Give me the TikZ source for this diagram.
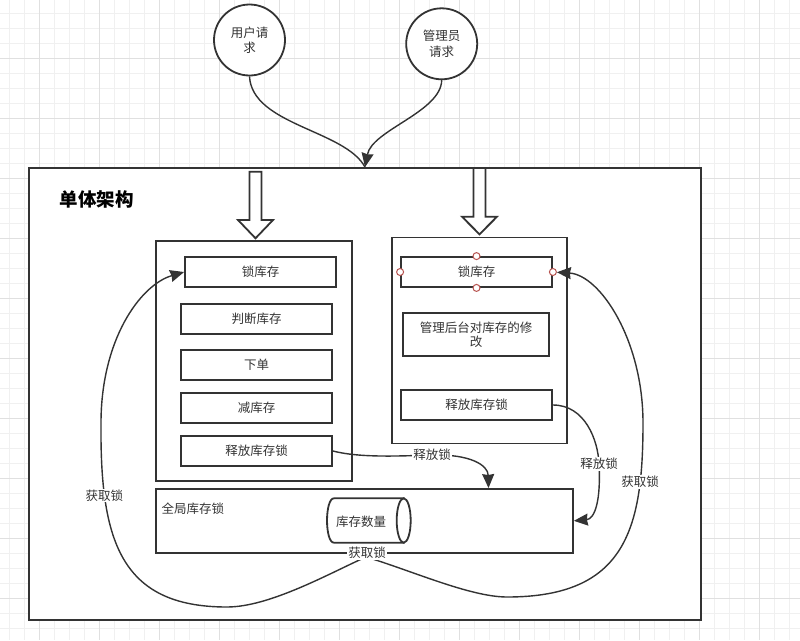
\documentclass[tikz,border=0pt]{standalone}
\usepackage{fontspec}
\newfontfamily\cjk{Noto Sans CJK SC}
\usetikzlibrary{arrows.meta}
\definecolor{ink}{RGB}{51,51,51}
\definecolor{handlered}{RGB}{184,84,80}
\definecolor{gridminor}{RGB}{240,240,240}
\definecolor{gridmajor}{RGB}{224,224,224}
\tikzset{
  every node/.style={font=\cjk\fontsize{12.5}{15.5}\selectfont, text=ink},
  box/.style={draw=ink, line width=1.8pt, fill=white, inner sep=0pt, align=center},
  stepbox/.style={box, minimum width=151pt, minimum height=30pt},
  lbl/.style={fill=white, inner sep=1pt},
  conn/.style={draw=ink, line width=1.4pt},
  handle/.style={circle, draw=handlered, line width=1pt, fill=white, minimum size=7pt, inner sep=0pt},
  minorline/.style={draw=gridminor, line width=1pt},
  majorline/.style={draw=gridmajor, line width=1pt},
  >={Stealth[length=14pt,width=12pt,inset=1pt]}
}
% hollow down arrow: centre x, top y, head y, tip y
\newcommand{\hollowarrow}[4]{%
  \draw[box] (#1-6,#2) -- (#1+6,#2) -- (#1+6,#3) -- (#1+17.5,#3) -- (#1,#4)
    -- (#1-17.5,#3) -- (#1-6,#3) -- cycle;}

\begin{document}
\begin{tikzpicture}[x=1pt,y=-1pt]
\useasboundingbox (0,0) rectangle (800,640);
% background grid
\foreach \x in {9,24,...,800} \draw[minorline] (\x,0) -- (\x,640);
\foreach \y in {13.3,28.3,...,640} \draw[minorline] (0,\y) -- (800,\y);
\foreach \x in {39,99,...,800} \draw[majorline] (\x,0) -- (\x,640);
\foreach \y in {58.3,118.3,...,640} \draw[majorline] (0,\y) -- (800,\y);

% requests
\node[box, circle, minimum size=71pt] (user) at (249.5,40) {用户请\\求};
\node[box, circle, minimum size=71pt] (admin) at (441.7,43.8) {管理员\\请求};

% outer frame
\node[box, minimum width=672pt, minimum height=452pt] (mono) at (365,394) {};
\node[anchor=west, text=black, font=\cjk\bfseries\fontsize{18.5}{20}\selectfont] (title) at (56,199) {单体架构};

\draw[conn] (user.south) .. controls (252,125) and (345,130) .. (mono.north);
\draw[conn,->] (admin.south) .. controls (441,112) and (372,130) .. (mono.north);

\hollowarrow{255.5}{171.7}{220}{238.3}
\hollowarrow{479.5}{168}{216.7}{234.3}

% order side
\node[box, minimum width=196pt, minimum height=240pt] (left) at (254,361) {};
\node[stepbox] (lock1) at (260.5,272) {锁库存};
\node[stepbox] (judge) at (256.5,319) {判断库存};
\node[stepbox] (order) at (256.5,365) {下单};
\node[stepbox] (reduce) at (256.5,408) {减库存};
\node[stepbox] (rel1) at (256.5,451) {释放库存锁};

% admin side
\node[box, minimum width=175pt, minimum height=206pt] (right) at (479.5,340.5) {};
\node[stepbox] (lock2) at (476.5,272) {锁库存};
\node[box, minimum width=146pt, minimum height=43pt, font=\cjk\fontsize{12.5}{14.5}\selectfont] (modify) at (476,334.5) {管理后台对库存的修\\改};
\node[stepbox] (rel2) at (476.5,405) {释放库存锁};
\foreach \a in {north,south,west} \node[handle] at (lock2.\a) {};
\node[handle] (h2e) at (lock2.east) {};

% global lock
\node[box, minimum width=417pt, minimum height=63.7pt] (glob) at (364.5,520.8) {};
\node[anchor=west] (globtxt) at (158,509) {全局库存锁};
\draw[box] (334,498.3) -- (403.7,498.3) -- (403.7,542.7) -- (334,542.7)
  .. controls (324.7,542.7) and (324.7,498.3) .. (334,498.3);
\draw[box] (403.7,520.5) ellipse [x radius=7pt, y radius=22.2pt];
\node (qty) at (361,521.5) {库存数量};

\coordinate (g1) at ([xshift=124pt]glob.north);
\coordinate (src) at (366,557);

\draw[conn,->] (rel1.east) .. controls (360,458) and (400,456) .. (432,455) node[lbl]{释放锁}
  .. controls (470,454) and (488,465) .. (g1);
\draw[conn,->] (rel2.east) .. controls (585,405) and (598,440) .. (599,464) node[lbl]{释放锁}
  .. controls (601,500) and (595,519) .. (glob.east);

\draw[conn,->] (src) .. controls (330,573) and (270,607) .. (227,607)
  .. controls (120,607) and (100,540) .. (101,423) node[lbl,pos=0.77]{获取锁}
  .. controls (101,340) and (140,285) .. (lock1.west);
\draw[conn,->] (src) .. controls (410,570) and (470,597) .. (507,597)
  .. controls (625,597) and (643,530) .. (643,423) node[lbl,pos=0.8]{获取锁}
  .. controls (643,340) and (600,275) .. (h2e);
\node[lbl] (getlbl) at (367,552.7) {获取锁};
\end{tikzpicture}
\end{document}
